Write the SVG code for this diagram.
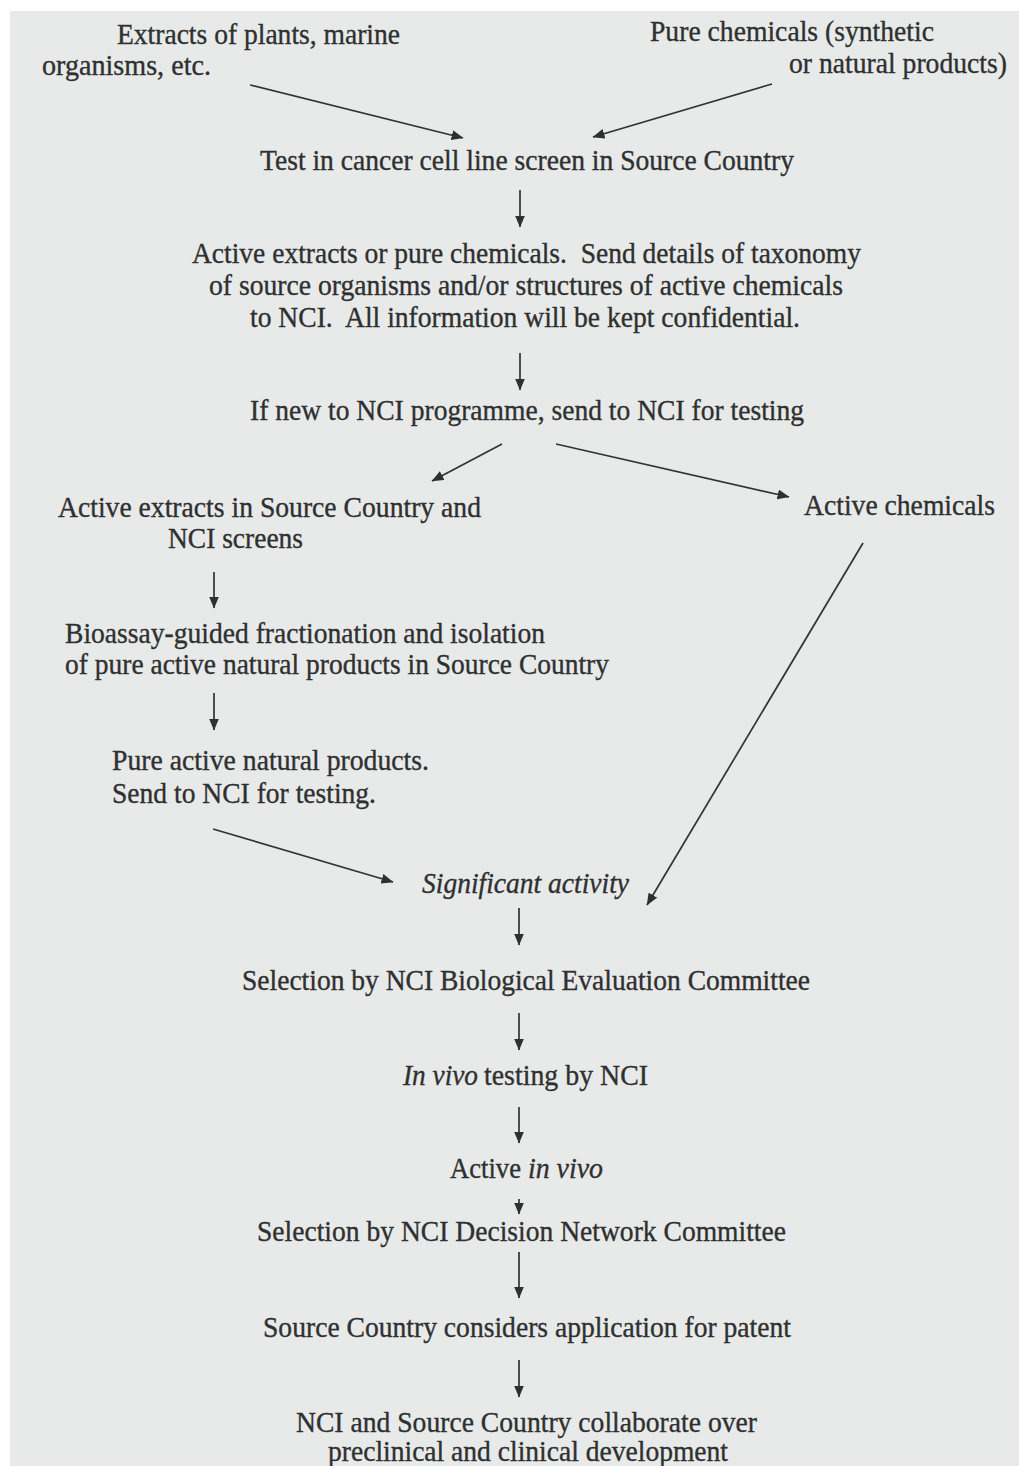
<svg xmlns="http://www.w3.org/2000/svg" width="1019" height="1466" viewBox="0 0 1019 1466">
<style>
  .t { font-family: "Liberation Serif", "Times New Roman", serif; font-size: 29px; fill: #2f3030; stroke: #2f3030; stroke-width: 0.35; }
  .i { font-style: italic; }
  .c { stroke: #333; stroke-width: 1.7; fill: none; marker-end: url(#ah); }
</style>
<defs>
  <marker id="ah" markerUnits="userSpaceOnUse" markerWidth="12" markerHeight="10" refX="11.5" refY="5" orient="auto">
    <path d="M0,0 L12,5 L0,10 z" fill="#2f3030"/>
  </marker>
</defs>
<rect x="0" y="0" width="1019" height="1466" fill="#ffffff"/>
<rect x="10" y="11" width="1009" height="1455" fill="#e8eaea"/>

<g id="connectors">
  <line class="c" x1="250" y1="85" x2="463" y2="138"/>
  <line class="c" x1="772" y1="84" x2="593" y2="137"/>
  <line class="c" x1="520" y1="190" x2="520" y2="227"/>
  <line class="c" x1="520" y1="353" x2="520" y2="390"/>
  <line class="c" x1="502" y1="444" x2="432" y2="481"/>
  <line class="c" x1="556" y1="444" x2="789" y2="497"/>
  <line class="c" x1="214" y1="572" x2="214" y2="608"/>
  <line class="c" x1="214" y1="693" x2="214" y2="730"/>
  <line class="c" x1="213" y1="829" x2="393" y2="882"/>
  <line class="c" x1="863" y1="543" x2="647" y2="905"/>
  <line class="c" x1="519" y1="908" x2="519" y2="945"/>
  <line class="c" x1="519" y1="1013" x2="519" y2="1050"/>
  <line class="c" x1="519" y1="1107" x2="519" y2="1143"/>
  <line class="c" x1="519" y1="1199" x2="519" y2="1214"/>
  <line class="c" x1="519" y1="1252" x2="519" y2="1298"/>
  <line class="c" x1="519" y1="1360" x2="519" y2="1397"/>
</g>

<g id="n-extracts">
  <text class="t" x="117" y="44" textLength="283" lengthAdjust="spacingAndGlyphs">Extracts of plants, marine</text>
  <text class="t" x="42" y="75" textLength="169" lengthAdjust="spacingAndGlyphs">organisms, etc.</text>
</g>
<g id="n-pure">
  <text class="t" x="650" y="41" textLength="284" lengthAdjust="spacingAndGlyphs">Pure chemicals (synthetic</text>
  <text class="t" x="789" y="73" textLength="218" lengthAdjust="spacingAndGlyphs">or natural products)</text>
</g>
<g id="n-test">
  <text class="t" x="260" y="170" textLength="534" lengthAdjust="spacingAndGlyphs">Test in cancer cell line screen in Source Country</text>
</g>
<g id="n-active-send">
  <text class="t" x="192" y="263" textLength="669" lengthAdjust="spacingAndGlyphs">Active extracts or pure chemicals.&#160; Send details of taxonomy</text>
  <text class="t" x="209" y="295" textLength="634" lengthAdjust="spacingAndGlyphs">of source organisms and/or structures of active chemicals</text>
  <text class="t" x="250" y="327" textLength="550" lengthAdjust="spacingAndGlyphs">to NCI.&#160; All information will be kept confidential.</text>
</g>
<g id="n-ifnew">
  <text class="t" x="250" y="420" textLength="554" lengthAdjust="spacingAndGlyphs">If new to NCI programme, send to NCI for testing</text>
</g>
<g id="n-active-extracts">
  <text class="t" x="58" y="517" textLength="423" lengthAdjust="spacingAndGlyphs">Active extracts in Source Country and</text>
  <text class="t" x="168" y="548" textLength="135" lengthAdjust="spacingAndGlyphs">NCI screens</text>
</g>
<g id="n-active-chemicals">
  <text class="t" x="804" y="515" textLength="191" lengthAdjust="spacingAndGlyphs">Active chemicals</text>
</g>
<g id="n-bioassay">
  <text class="t" x="65" y="643" textLength="480" lengthAdjust="spacingAndGlyphs">Bioassay-guided fractionation and isolation</text>
  <text class="t" x="65" y="674" textLength="544" lengthAdjust="spacingAndGlyphs">of pure active natural products in Source Country</text>
</g>
<g id="n-pure-active">
  <text class="t" x="112" y="770" textLength="317" lengthAdjust="spacingAndGlyphs">Pure active natural products.</text>
  <text class="t" x="112" y="803" textLength="264" lengthAdjust="spacingAndGlyphs">Send to NCI for testing.</text>
</g>
<g id="n-significant">
  <text class="t i" x="422" y="893" textLength="207" lengthAdjust="spacingAndGlyphs">Significant activity</text>
</g>
<g id="n-bio-eval">
  <text class="t" x="242" y="990" textLength="568" lengthAdjust="spacingAndGlyphs">Selection by NCI Biological Evaluation Committee</text>
</g>
<g id="n-invivo-test">
  <text class="t i" x="403" y="1085" textLength="75" lengthAdjust="spacingAndGlyphs">In vivo</text>
  <text class="t" x="484" y="1085" textLength="164" lengthAdjust="spacingAndGlyphs">testing by NCI</text>
</g>
<g id="n-active-invivo">
  <text class="t" x="450" y="1178" textLength="71" lengthAdjust="spacingAndGlyphs">Active</text>
  <text class="t i" x="528" y="1178" textLength="75" lengthAdjust="spacingAndGlyphs">in vivo</text>
</g>
<g id="n-decision">
  <text class="t" x="257" y="1241" textLength="529" lengthAdjust="spacingAndGlyphs">Selection by NCI Decision Network Committee</text>
</g>
<g id="n-patent">
  <text class="t" x="263" y="1337" textLength="528" lengthAdjust="spacingAndGlyphs">Source Country considers application for patent</text>
</g>
<g id="n-collab">
  <text class="t" x="296" y="1432" textLength="461" lengthAdjust="spacingAndGlyphs">NCI and Source Country collaborate over</text>
  <text class="t" x="328" y="1461" textLength="400" lengthAdjust="spacingAndGlyphs">preclinical and clinical development</text>
</g>
</svg>
